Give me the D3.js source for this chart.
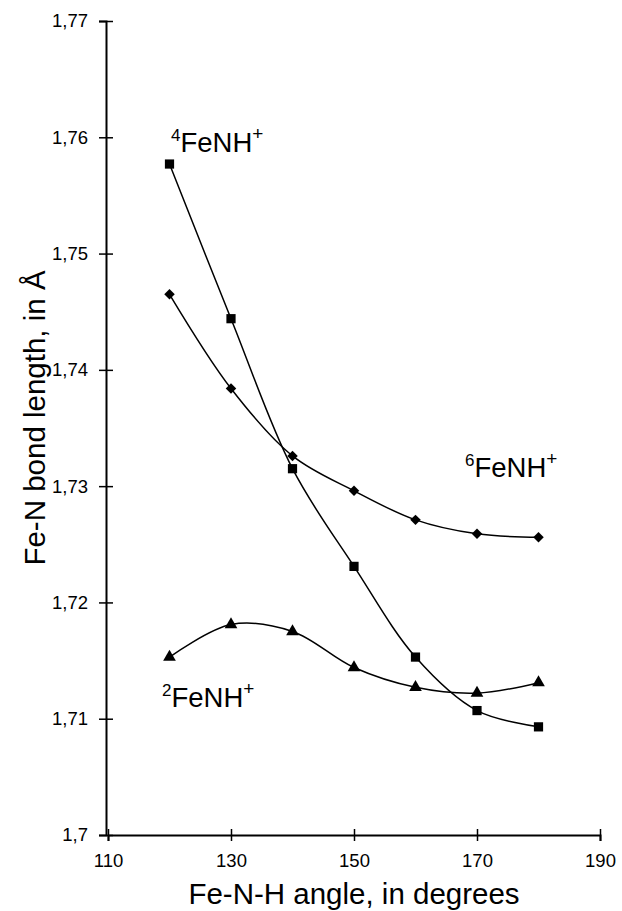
<!DOCTYPE html>
<html>
<head>
<meta charset="utf-8">
<script src="https://cdn.jsdelivr.net/npm/d3@7"></script>
<style>
  body { margin: 0; background: #fff; }
  svg { font-family: "Liberation Sans", Arial, sans-serif; }
</style>
</head>
<body>
<svg id="chart" width="622" height="911"></svg>
<script>
// hoeken (x) en bindingslengtes (y)
const angles = [120, 130, 140, 150, 160, 170, 180];
const quartet = [1.7577, 1.7444, 1.7315, 1.7231, 1.7153, 1.7107, 1.7093]; // 4FeNH+
const sextet = [1.7465, 1.7384, 1.7326, 1.7296, 1.7271, 1.7259, 1.7256]; // 6FeNH+
const doublet = [1.7153, 1.7181, 1.7175, 1.7144, 1.7127, 1.7122, 1.7131]; // 2FeNH+

const xTicks = [110, 130, 150, 170, 190];
const yTicks = [1.7, 1.71, 1.72, 1.73, 1.74, 1.75, 1.76, 1.77];
const yTickLabels = ["1,7", "1,71", "1,72", "1,73", "1,74", "1,75", "1,76", "1,77"];

const font = "Liberation Sans, Arial, sans-serif";
const svg = d3.select("#chart");

const x = d3.scaleLinear().domain([110, 190]).range([108, 600]);
const y = d3.scaleLinear().domain([1.7, 1.77]).range([835, 21]);

// y-as
const yAxis = svg
  .append("g")
  .attr("transform", "translate(106,0)")
  .call(
    d3
      .axisLeft(y)
      .tickValues(yTicks)
      .tickSizeOuter(0)
      .tickSize(7)
      .tickPadding(11)
      .tickFormat((d, i) => yTickLabels[i])
  );
yAxis.select(".domain").attr("stroke-width", 2);
yAxis.selectAll(".tick line").attr("x1", -7).attr("x2", 7).attr("stroke-width", 1.5);
yAxis.selectAll(".tick text").attr("font-size", 18.5).attr("font-family", font);

// x-as
const xAxis = svg
  .append("g")
  .attr("transform", "translate(0,835)")
  .call(d3.axisBottom(x).tickValues(xTicks).tickSizeOuter(0).tickSize(6).tickPadding(13));
xAxis.select(".domain").attr("stroke-width", 2);
xAxis.selectAll(".tick line").attr("y1", -6).attr("y2", 6).attr("stroke-width", 1.5);
xAxis.selectAll(".tick text").attr("font-size", 18.5).attr("font-family", font);

// as-titels
svg
  .append("text")
  .attr("x", 354)
  .attr("y", 904)
  .attr("text-anchor", "middle")
  .attr("font-size", 29.5)
  .text("Fe-N-H angle, in degrees");

svg
  .append("text")
  .attr("transform", "translate(45,418) rotate(-90)")
  .attr("text-anchor", "middle")
  .attr("font-size", 29.5)
  .text("Fe-N bond length, in Å");

// lijnen + markers
const series = [
  { values: quartet, shape: d3.symbolSquare, size: 85 },
  { values: sextet, shape: d3.symbolDiamond2, size: 70 },
  { values: doublet, shape: d3.symbolTriangle, size: 70 },
];

const line = d3
  .line()
  .x((d) => x(d[0]))
  .y((d) => y(d[1]))
  .curve(d3.curveCatmullRom.alpha(0.5));

series.forEach((s) => {
  const pts = angles.map((a, i) => [a, s.values[i]]);
  svg
    .append("path")
    .attr("d", line(pts))
    .attr("fill", "none")
    .attr("stroke", "#000")
    .attr("stroke-width", 1.5);
  svg
    .append("g")
    .selectAll("path")
    .data(pts)
    .join("path")
    .attr("transform", (d) => "translate(" + x(d[0]) + "," + y(d[1]) + ")")
    .attr("d", d3.symbol().type(s.shape).size(s.size))
    .attr("fill", "#000");
});

// labels met superscript
const labels = [
  { sup: "4", x: 171, y: 152 },
  { sup: "6", x: 465, y: 477 },
  { sup: "2", x: 162, y: 707 },
];

labels.forEach((l) => {
  const t = svg.append("text").attr("x", l.x).attr("y", l.y).attr("font-size", 27.5);
  t.append("tspan").attr("font-size", 17).attr("dy", -11).text(l.sup);
  t.append("tspan").attr("dy", 11).text("FeNH");
  t.append("tspan").attr("font-size", 19).attr("dy", -12).text("+");
});
</script>
</body>
</html>
